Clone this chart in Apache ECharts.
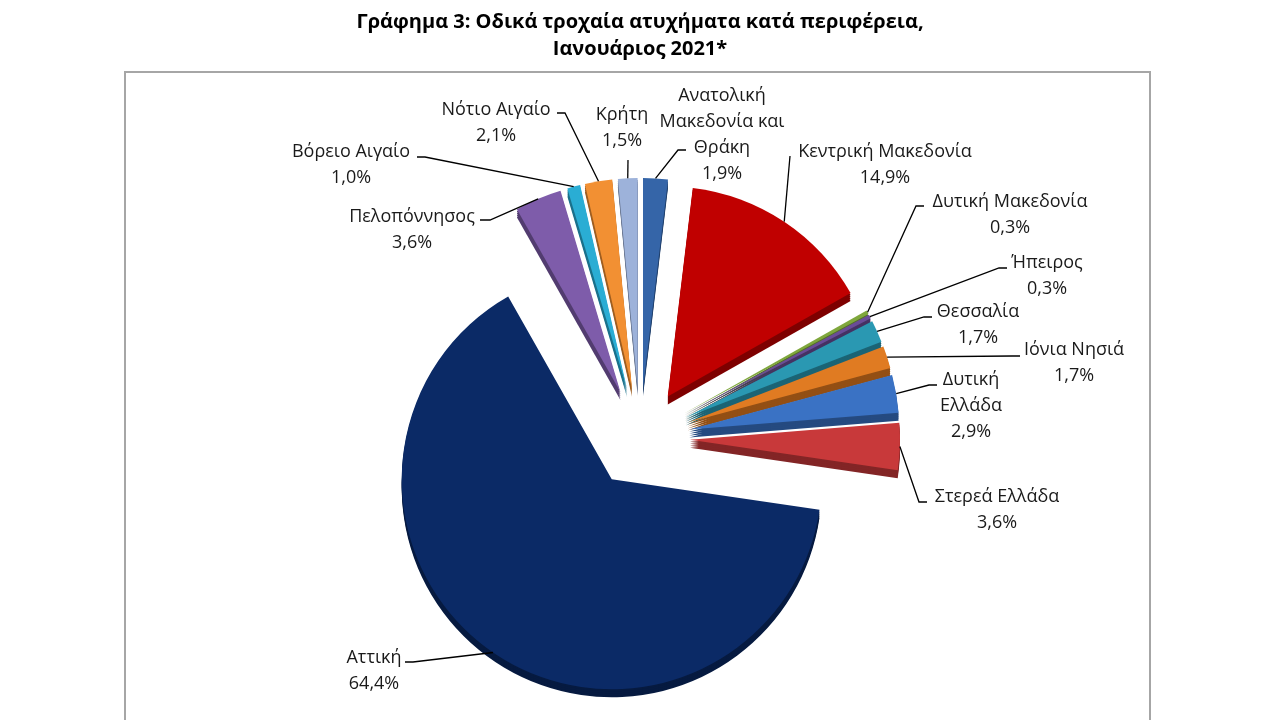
<!DOCTYPE html>
<html>
<head>
<meta charset="utf-8">
<script src="https://cdn.jsdelivr.net/npm/echarts@6/dist/echarts.min.js"></script>
<style>
html, body { margin: 0; padding: 0; background: #fff; }
#charts { width: 1280px; height: 720px; }
</style>
</head>
<body>
<div id="charts"></div>
<script>
// περιφέρειες και ποσοστά (%)
const regions = ['Ανατολική\nΜακεδονία και\nΘράκη', 'Κεντρική Μακεδονία', 'Δυτική Μακεδονία', 'Ήπειρος',
    'Θεσσαλία', 'Ιόνια Νησιά', 'Δυτική\nΕλλάδα', 'Στερεά Ελλάδα', 'Αττική', 'Πελοπόννησος',
    'Βόρειο Αιγαίο', 'Νότιο Αιγαίο', 'Κρήτη'];
const shares = [1.9, 14.9, 0.3, 0.3, 1.7, 1.7, 2.9, 3.6, 64.4, 3.6, 1.0, 2.1, 1.5];

const topColors = ['#3565a8', '#c00000', '#7fa73c', '#6a4c98', '#2a98b2', '#e07b22', '#3a72c4',
    '#c8393a', '#0b2a66', '#7e5caa', '#2aadd4', '#f29033', '#9db2da'];
const sideColors = ['#22426e', '#7e0000', '#536e27', '#453263', '#1b6475', '#934f14', '#254a80',
    '#832526', '#061a40', '#523c70', '#1b718b', '#9e5e20', '#66748f'];

// θέσεις ετικετών: [κέντρο x, πάνω y, σημείο σύνδεσης x, y, οριζόντιο τμήμα]
const labelSpots = [
    [722, 83, 686, 150, 8],
    [885, 139, 790, 156, 0],
    [1010, 189, 924, 206, 8],
    [1047, 250, 1007, 268, 8],
    [978, 299, 932, 317, 8],
    [1074, 337, 1020, 356, 8],
    [971, 367, 937, 385, 8],
    [997, 484, 927, 502, 8],
    [374, 645, 405, 662, 8],
    [412, 204, 480, 220, 10],
    [351, 139, 417, 157, 8],
    [496, 97, 557, 113, 8],
    [622, 102, 628, 160, 0]
];

const center = [640, 438];
const radius = 210;
const explode = 50;
const lineH = 26;

function pieData(colors, sel) {
    return regions.map((name, i) => ({
        name: name,
        value: shares[i],
        selected: sel,
        itemStyle: { color: colors[i] }
    }));
}

const series = [];
// πλαϊνά τοιχώματα (ψευδο-3D), η τελευταία είναι η πάνω όψη
[8, 6, 4, 2, 0].forEach(d => {
    series.push({
        type: 'pie',
        z: d === 0 ? 2 : 1,
        silent: true,
        center: [center[0], center[1] + d],
        radius: radius,
        startAngle: 90,
        clockwise: true,
        selectedMode: 'multiple',
        selectedOffset: explode,
        label: { show: false },
        labelLine: { show: false },
        emphasis: { disabled: true },
        data: pieData(d === 0 ? topColors : sideColors, true)
    });
});

// ετικέτες (αόρατη πίτα χωρίς μετατόπιση)
series.push({
    type: 'pie',
    z: 3,
    silent: true,
    center: center,
    radius: radius,
    startAngle: 90,
    clockwise: true,
    emphasis: { disabled: true },
    itemStyle: { color: 'rgba(0,0,0,0)' },
    label: {
        show: true,
        position: 'outside',
        color: '#1a1a1a',
        fontFamily: 'Open Sans',
        fontSize: 18,
        lineHeight: lineH,
        formatter: p => p.name + '\n' + p.value.toFixed(1).replace('.', ',') + '%'
    },
    labelLine: {
        show: true,
        length: 22,
        length2: 18,
        lineStyle: { color: '#000', width: 1.3 }
    },
    labelLayout: function (p) {
        const s = labelSpots[p.dataIndex];
        const e = p.labelLinePoints[0];
        const vx = e[0] - center[0], vy = e[1] - center[1];
        const len = Math.sqrt(vx * vx + vy * vy) || 1;
        const p0 = [e[0] + vx / len * explode, e[1] + vy / len * explode];
        const side = p0[0] < s[2] ? -1 : 1;
        return {
            x: s[0],
            y: s[1],
            align: 'center',
            verticalAlign: 'top',
            labelLinePoints: [p0, [s[2] + side * s[4], s[3]], [s[2], s[3]]]
        };
    },
    data: regions.map((name, i) => ({ name: name, value: shares[i] }))
});

const option = {
    animation: false,
    title: {
        text: 'Γράφημα 3: Οδικά τροχαία ατυχήματα κατά περιφέρεια,\nΙανουάριος 2021*',
        left: 'center',
        top: 4,
        textStyle: {
            fontFamily: 'Open Sans',
            fontWeight: 'bold',
            fontSize: 20,
            lineHeight: 27,
            color: '#000'
        }
    },
    graphic: [{
        type: 'rect',
        shape: { x: 125, y: 72, width: 1025, height: 700 },
        style: { fill: 'none', stroke: '#a6a6a6', lineWidth: 2 },
        silent: true
    }],
    series: series
};

const chart = echarts.init(document.getElementById('charts'));
chart.setOption(option);
</script>
</body>
</html>
